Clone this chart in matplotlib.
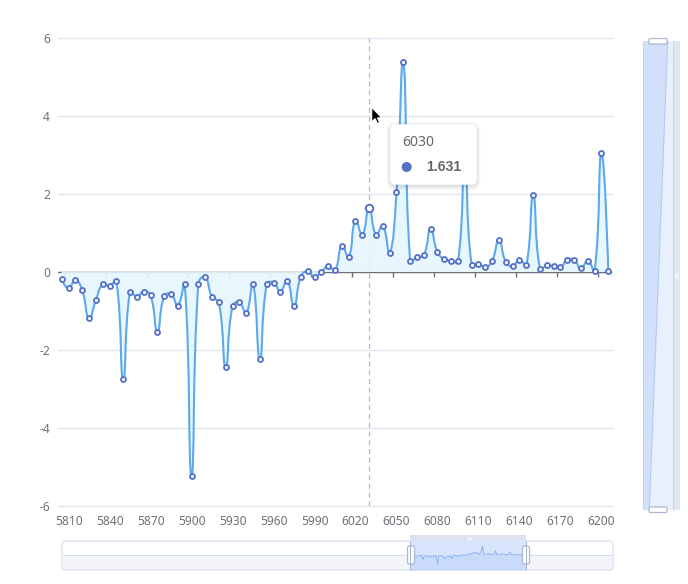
import numpy as np
import matplotlib
matplotlib.use('Agg')
import matplotlib.pyplot as plt
from matplotlib.path import Path
from matplotlib.patches import PathPatch, FancyBboxPatch, Rectangle, Polygon, Circle

plt.rcParams['font.family'] = ['Noto Sans', 'DejaVu Sans']
plt.rcParams['axes.unicode_minus'] = False

# categories on the x axis (every 5)
x_start, x_step, n_points = 5805, 5, 81
categories = [str(x_start + x_step * i) for i in range(n_points)]

values = [
    -0.19, -0.42, -0.20, -0.47, -1.19, -0.72, -0.32, -0.35, -0.23, -2.75,
    -0.50, -0.64, -0.50, -0.60, -1.53, -0.62, -0.57, -0.86, -0.32, -5.22,
    -0.30, -0.13, -0.64, -0.78, -2.44, -0.88, -0.78, -1.06, -0.31, -2.24,
    -0.32, -0.27, -0.50, -0.22, -0.88, -0.12, 0.02, -0.12, 0.00, 0.15,
    0.05, 0.67, 0.39, 1.32, 0.96, 1.631, 0.96, 1.18, 0.48, 2.04,
    5.38, 0.28, 0.38, 0.43, 1.10, 0.51, 0.33, 0.28, 0.27, 2.70,
    0.19, 0.20, 0.12, 0.29, 0.82, 0.26, 0.15, 0.32, 0.18, 1.97,
    0.08, 0.17, 0.15, 0.12, 0.32, 0.31, 0.09, 0.29, 0.03, 3.04,
    0.02,
]

x_labels = ['5810', '5840', '5870', '5900', '5930', '5960', '5990',
            '6020', '6050', '6080', '6110', '6140', '6170', '6200']
y_ticks = [-6, -4, -2, 0, 2, 4, 6]
y_labels = ['-6', '-4', '-2', '0', '2', '4', '6']
tooltip_cat = '6030'

W, H = 688, 584
AXIS_COL = '#6E7079'
GRID_COL = '#E0E6F1'
LINE_COL = '#5DA9EC'
MARK_COL = '#5470C6'


def fr(x0, y0, x1, y1):
    return [x0 / W, 1 - y1 / H, (x1 - x0) / W, (y1 - y0) / H]


def smooth_verts(xs, ys, kx, ky, smooth=0.5):
    # bezier control points like echarts smooth line, computed in pixel space
    px, py = np.asarray(xs) * kx, np.asarray(ys) * ky
    n = len(px)
    verts = [(px[0] / kx, py[0] / ky)]
    codes = [Path.MOVETO]
    cp0 = (px[0], py[0])
    nxt = cp0
    for i in range(1, n):
        x, y = px[i], py[i]
        if i == n - 1:
            cp1 = (x, y)
        else:
            vx = px[i + 1] - px[i - 1]
            vy = py[i + 1] - py[i - 1]
            l0 = np.hypot(x - px[i - 1], y - py[i - 1])
            l1 = np.hypot(px[i + 1] - x, py[i + 1] - y)
            r = l1 / (l0 + l1)
            cp1 = (x - vx * smooth * (1 - r), y - vy * smooth * (1 - r))
            nxt = (x + vx * smooth * r, y + vy * smooth * r)
        verts += [(cp0[0] / kx, cp0[1] / ky), (cp1[0] / kx, cp1[1] / ky), (x / kx, y / ky)]
        codes += [Path.CURVE4] * 3
        cp0 = nxt
    return verts, codes


fig = plt.figure(figsize=(W / 100, H / 100), dpi=100)
fig.patch.set_facecolor('white')

# ---- main chart
ax = fig.add_axes(fr(58.3, 38, 611.7, 506), zorder=1)
ax.set_facecolor('none')
idx = np.arange(len(categories))
ax.set_xlim(-0.5, len(categories) - 0.5)
ax.set_ylim(-6, 6)
kx = 553.4 / len(categories)
ky = 468 / 12.0

for s in ax.spines.values():
    s.set_visible(False)

for yv in y_ticks:
    gl = ax.axhline(yv, color=GRID_COL, lw=1, zorder=0)
    gl.set_clip_on(False)

verts, codes = smooth_verts(idx, values, kx, ky)
area_verts = verts + [(idx[-1], 0), (idx[0], 0), (idx[0], values[0])]
area_codes = codes + [Path.LINETO, Path.LINETO, Path.CLOSEPOLY]

ax.axhline(0, color=AXIS_COL, lw=1, zorder=1)
lbl_idx = [categories.index(l) for l in x_labels]
bounds = [i - 0.5 for i in lbl_idx] + [len(categories) - 0.5]
ax.vlines(bounds, 0, -5 / ky, color=AXIS_COL, lw=1, zorder=1)

ax.add_patch(PathPatch(Path(area_verts, area_codes), fc='#E6F6FD', ec='none',
                       alpha=0.9, zorder=2))
ax.add_patch(PathPatch(Path(verts, codes), fc='none', ec=LINE_COL, lw=1.5,
                       zorder=3, capstyle='round', joinstyle='round'))

t_i = categories.index(tooltip_cat)
ax.axvline(t_i, color='#B4B6CC', lw=0.9, ls=(0, (4, 3)), zorder=1.5)

ax.plot(idx, values, 'o', ms=3.6, mfc='white', mec=MARK_COL, mew=1.3, zorder=4)
ax.plot(t_i, values[t_i], 'o', ms=5.4, mfc='white', mec=MARK_COL, mew=1.4, zorder=5)

ax.set_xticks(lbl_idx, x_labels)
ax.set_yticks(y_ticks, y_labels)
ax.tick_params(axis='x', length=0, pad=6.5, labelcolor=AXIS_COL, labelsize=8.64)
ax.tick_params(axis='y', length=0, pad=6, labelcolor=AXIS_COL, labelsize=8.64)

# ---- decoration layer (sliders background)
deco = fig.add_axes([0, 0, 1, 1], zorder=2)
deco.set_xlim(0, W)
deco.set_ylim(H, 0)
deco.axis('off')

deco.add_patch(FancyBboxPatch((62, 541), 551, 29, boxstyle='round,pad=0,rounding_size=3',
                              fc='white', ec='#D2DBEE', lw=0.8))
deco.add_patch(Rectangle((63, 555), 347, 14.3, fc='#F3F5FA', ec='none'))
deco.add_patch(Rectangle((526, 555), 86, 14.3, fc='#F3F5FA', ec='none'))
deco.hlines([555, 555], [63, 526], [410, 612], color='#D2DBEE', lw=0.7)
deco.add_patch(Rectangle((410, 541), 116, 29, fc='#D9E5FC', ec='none'))
deco.add_patch(Rectangle((410, 535), 116, 6, fc='#DCE2F1', ec='none'))
deco.vlines([466.5, 468.5, 470.5], 536.5, 539.5, color='white', lw=0.8)

# right (vertical) slider
deco.add_patch(Rectangle((673, 41), 7, 469, fc='#E0E5F1', ec='none'))
deco.add_patch(Polygon([(643, 41), (667.7, 41), (649.3, 510), (643, 510)],
                       closed=True, fc='#D3E0FA', ec='none'))
deco.add_patch(Polygon([(667.7, 41), (673, 41), (673, 510), (649.3, 510)],
                       closed=True, fc='#E8EFFD', ec='none'))
deco.vlines([643, 673], 41, 510, color='#C8D3EA', lw=0.7)
deco.plot([667.7, 649.3], [41.5, 509], color='#B4C8F4', lw=0.8)
deco.hlines([273, 275, 277], 675.3, 678.3, color='white', lw=0.8)

# thumbnail of the data inside the bottom slider window
thumb = fig.add_axes(fr(410, 541, 526, 570), zorder=3)
thumb.set_xlim(0, len(categories) - 1)
thumb.set_ylim(-9, 8.4)
thumb.axis('off')
thumb.fill_between(idx, values, -9, color='#BFD2F9', alpha=0.55, lw=0)
thumb.plot(idx, values, color='#93B3F5', lw=0.7)

# ---- top layer: handles, tooltip, cursor
top = fig.add_axes([0, 0, 1, 1], zorder=4)
top.set_xlim(0, W)
top.set_ylim(H, 0)
top.axis('off')

top.vlines([410, 526], 541, 570, color='#ACB8D1', lw=0.8)
for hx in (407.5, 522.5):
    top.add_patch(FancyBboxPatch((hx, 546), 7, 18, boxstyle='round,pad=0,rounding_size=2',
                                 fc='white', ec='#ACB8D1', lw=0.9))
for hy in (38.5, 507):
    top.add_patch(FancyBboxPatch((649, hy), 18, 5.5, boxstyle='round,pad=0,rounding_size=1.5',
                                 fc='white', ec='#ACB8D1', lw=0.9))

# tooltip
bx, by, bw, bh = 391, 125, 85, 59
for k in range(1, 7):
    top.add_patch(FancyBboxPatch((bx - k * 0.8, by - k * 0.8 + 1.5), bw + k * 1.6, bh + k * 1.6,
                                 boxstyle='round,pad=0,rounding_size=%.1f' % (4 + k),
                                 fc='black', ec='none', alpha=0.018))
top.add_patch(FancyBboxPatch((bx, by), bw, bh, boxstyle='round,pad=0,rounding_size=4',
                             fc='white', ec='white', lw=1))
top.text(402, 143, tooltip_cat, fontsize=10.08, color='#666666', ha='left', va='center')
top.add_patch(Circle((406.7, 167), 5, fc=MARK_COL, ec='none'))
top.text(426.5, 167, '%.3f' % values[t_i], fontsize=10.08, color='#666666',
         ha='left', va='center', fontweight='bold',
         family=['Liberation Sans', 'DejaVu Sans'])

# mouse cursor
cx, cy = 371.7, 107.3
arrow = [(0, 0), (0, 14.5), (3.4, 11.4), (5.8, 16.3), (8, 15.3), (5.7, 10.6), (10.2, 10.6)]
top.add_patch(Polygon([(cx + a, cy + b) for a, b in arrow], closed=True,
                      fc='black', ec='white', lw=0.8, joinstyle='miter'))

fig.savefig('out.png', dpi=100, facecolor='white')
